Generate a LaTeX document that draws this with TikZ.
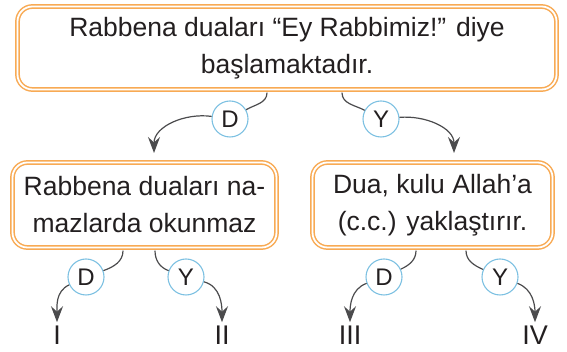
\documentclass[tikz,border=0pt]{standalone}
\usepackage{fontspec}
\setmainfont{Liberation Sans}
\usetikzlibrary{arrows.meta}
\definecolor{boxorange}{RGB}{248,170,84}
\definecolor{ringblue}{RGB}{125,193,226}
\definecolor{arrowgray}{RGB}{75,75,77}
\definecolor{inkblack}{RGB}{35,31,32}
\tikzset{
  qbox/.style={draw=boxorange, double=white, line width=1.5pt, double distance=1.8pt,
    rounded corners=15pt, align=center, inner sep=0pt, text=inkblack,
    font=\fontsize{26.5}{37}\selectfont},
  ring/.style={circle, draw=ringblue, line width=1.1pt, fill=white, minimum size=36pt,
    inner sep=0pt, text=inkblack, font=\fontsize{24}{24}\selectfont},
  leaf/.style={anchor=base, inner sep=0pt, text=inkblack, font=\fontsize{27}{27}\selectfont},
  link/.style={draw=arrowgray, line width=1.2pt},
  tip/.style={-{Stealth[length=16pt,width=12pt,inset=5.5pt]}}
}
\begin{document}
\begin{tikzpicture}[x=1pt,y=1pt]
\useasboundingbox (0,0) rectangle (567,352);

% question
\node[qbox, minimum width=539pt, minimum height=83pt] (q) at (287,304)
    {Rabbena duaları “Ey Rabbimiz!” diye\\başlamaktadır.};
\node[ring] (qd) at (230,233) {D};
\node[ring] (qy) at (381,233) {Y};
\coordinate (qdend) at (154,199);
\coordinate (qyend) at (454,199);
\draw[link] ([xshift=-20pt,yshift=-2.4pt]q.south) to[out=-90,in=30] (qd);
\draw[link,tip] (qd) to[out=172,in=90] (qdend);
\draw[link] ([xshift=55pt,yshift=-2.4pt]q.south) to[out=-90,in=152] (qy);
\draw[link,tip] (qy) to[out=5,in=90] (qyend);

% left branch (D)
\node[qbox, minimum width=264pt, minimum height=85pt] (a) at (144.5,147)
    {Rabbena duaları na-\\mazlarda okunmaz};
\node[ring] (ad) at (86,75) {D};
\node[ring] (ay) at (186,75) {Y};
\node[leaf] (l1) at (57,7) {I};
\node[leaf] (l2) at (222,7) {II};
\draw[link] ([xshift=-21.5pt,yshift=-2.4pt]a.south) to[out=-90,in=20] (ad);
\draw[link,tip] (ad) to[out=205,in=90] ([yshift=4pt]l1.north);
\draw[link] ([xshift=10.5pt,yshift=-2.4pt]a.south) to[out=-90,in=160] (ay);
\draw[link,tip] (ay) to[out=-15,in=90] ([yshift=4pt]l2.north);

% right branch (Y)
\node[qbox, minimum width=240pt, minimum height=85pt] (b) at (432.5,147)
    {Dua, kulu Allah’a\\(c.c.) yaklaştırır.};
\node[ring] (bd) at (384,75) {D};
\node[ring] (by) at (500,75) {Y};
\node[leaf] (l3) at (350,7) {III};
\node[leaf] (l4) at (535,7) {IV};
\draw[link] ([xshift=-16.5pt,yshift=-2.4pt]b.south) to[out=-90,in=25] (bd);
\draw[link,tip] (bd) to[out=200,in=90] ([yshift=4pt]l3.north);
\draw[link] ([xshift=33.5pt,yshift=-2.4pt]b.south) to[out=-90,in=156] (by);
\draw[link,tip] (by) to[out=-20,in=90] ([yshift=4pt]l4.north);
\end{tikzpicture}
\end{document}
